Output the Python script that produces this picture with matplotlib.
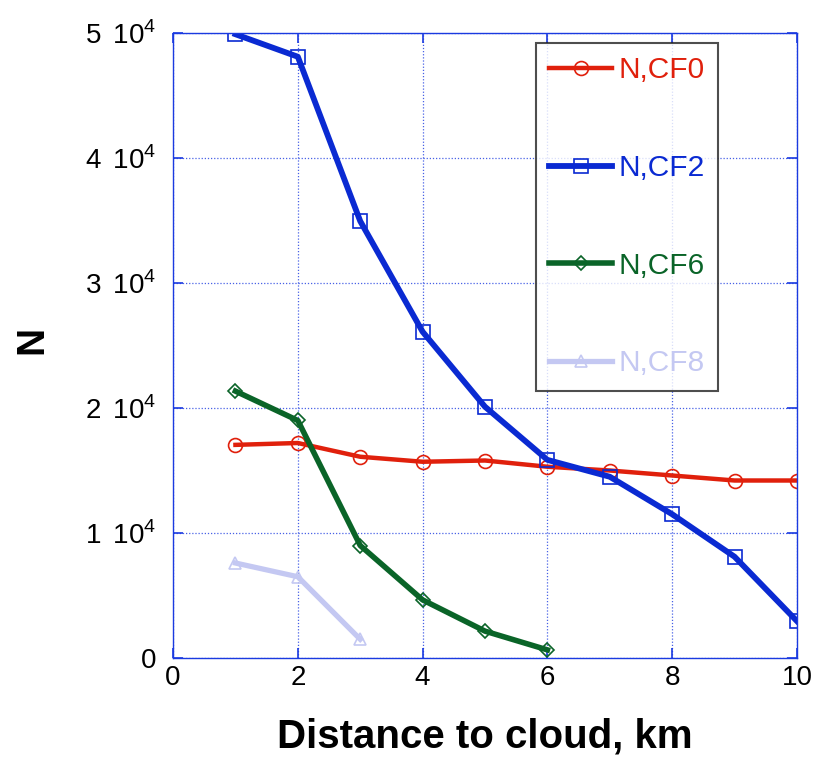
import matplotlib
matplotlib.use("Agg")
import matplotlib.pyplot as plt

plt.rcParams['font.family'] = ['Liberation Sans', 'DejaVu Sans']
plt.rcParams['mathtext.fontset'] = 'custom'
plt.rcParams['mathtext.rm'] = 'Liberation Sans'

dist = [1, 2, 3, 4, 5, 6, 7, 8, 9, 10]
n_cf0 = [17050, 17200, 16100, 15700, 15800, 15300, 15000, 14600, 14200, 14200]
n_cf2 = [49900, 48100, 34950, 26100, 20100, 15850, 14500, 11500, 8100, 2950]
dist_cf6 = [1, 2, 3, 4, 5, 6]
n_cf6 = [21350, 19000, 9000, 4650, 2150, 650]
dist_cf8 = [1, 2, 3]
n_cf8 = [7600, 6500, 1500]

xticks = [0, 2, 4, 6, 8, 10]
yticks = [0, 10000, 20000, 30000, 40000, 50000]
ytick_labels = ['0', r'1 $\,10^4$', r'2 $\,10^4$', r'3 $\,10^4$', r'4 $\,10^4$', r'5 $\,10^4$']

c_red = '#e0200c'
c_blue = '#0a2ad2'
c_green = '#0a6428'
c_lav = '#c4c8f2'
c_axis = '#1a3ae0'

fig = plt.figure(figsize=(8.17, 7.67), dpi=100)
ax = fig.add_axes([0.2118, 0.1421, 0.7637, 0.8149])

ax.plot(dist, n_cf0, color=c_red, lw=3.2, marker='o', ms=10, mfc='none', mec=c_red, mew=1.2, label='N,CF0')
ax.plot(dist, n_cf2, color=c_blue, lw=4.2, marker='s', ms=10, mfc='none', mec=c_blue, mew=1.2, label='N,CF2')
ax.plot(dist_cf6, n_cf6, color=c_green, lw=4.0, marker='D', ms=7, mfc='none', mec=c_green, mew=1.2, label='N,CF6')
ax.plot(dist_cf8, n_cf8, color=c_lav, lw=3.8, marker='^', ms=9, mfc='none', mec=c_lav, mew=1.2, label='N,CF8')

ax.set_xlim(0, 10)
ax.set_ylim(0, 50000)
ax.set_xticks(xticks)
ax.set_yticks(yticks)
ax.set_yticklabels(ytick_labels)
ax.tick_params(axis='both', which='both', direction='in', length=7, width=1.2,
               color=c_axis, labelsize=20, top=True, right=True)
ax.tick_params(axis='y', pad=12)
ax.tick_params(axis='x', pad=5)
ax.grid(True, color=c_axis, linestyle=(0, (1, 1.5)), linewidth=0.9, alpha=0.8)
for s in ax.spines.values():
    s.set_color(c_axis)
    s.set_linewidth(1.0)

ax.set_xlabel('Distance to cloud, km', fontsize=29, fontweight='bold', labelpad=19)
ax.set_ylabel('N', fontsize=28, fontweight='bold')
ax.yaxis.set_label_coords(-0.197, 0.509)

leg = ax.legend(loc='upper right', bbox_to_anchor=(0.873, 0.984), fontsize=21.5,
                labelspacing=2.33, handlelength=2.1, handletextpad=0.2,
                borderpad=0.45, frameon=True, fancybox=False, borderaxespad=0)
leg.get_frame().set_edgecolor('#222222')
leg.get_frame().set_linewidth(1.5)
for txt, line in zip(leg.get_texts(), leg.get_lines()):
    txt.set_color(line.get_color())

fig.savefig('out.png', dpi=100)
